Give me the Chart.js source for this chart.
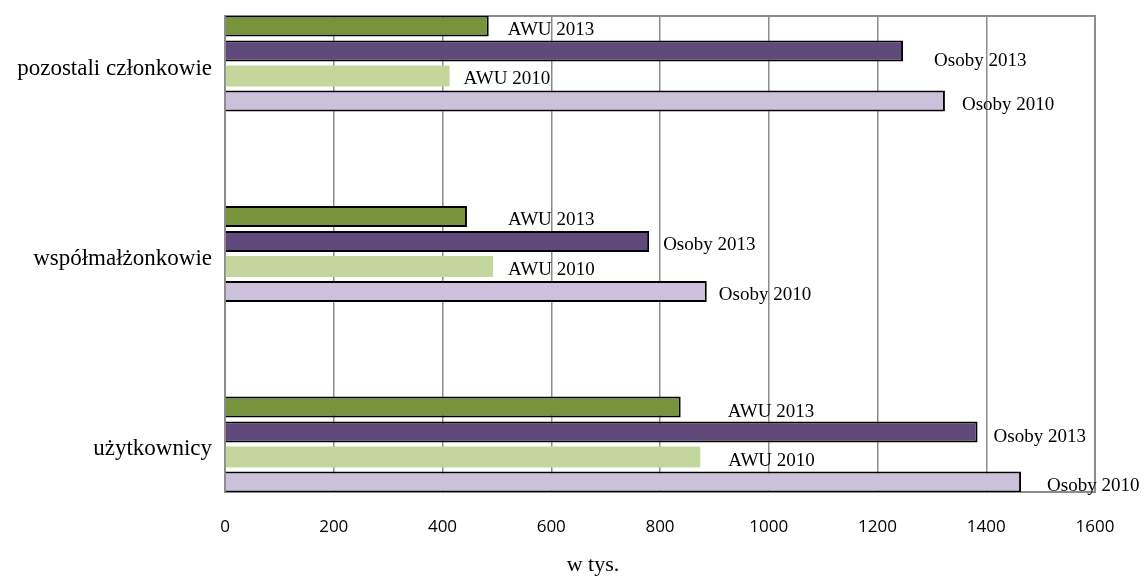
<!DOCTYPE html>
<html>
<head>
<meta charset="utf-8">
<script src="https://cdn.jsdelivr.net/npm/chart.js@4/dist/chart.umd.min.js"></script>
<style>
    body { margin: 0; background: #fff; }
    canvas { display: block; }
</style>
</head>
<body>
<canvas id="pracujacyChart" width="1145" height="581"></canvas>
<script>
// dane (w tys.)
const categories = ['pozostali członkowie', 'współmałżonkowie', 'użytkownicy'];
const seriesNames = ['AWU 2013', 'Osoby 2013', 'AWU 2010', 'Osoby 2010'];
const awu2013 = [485, 445, 838];
const osoby2013 = [1247, 780, 1384];
const awu2010 = [413, 493, 874];
const osoby2010 = [1324, 886, 1464];
const xTicks = [0, 200, 400, 600, 800, 1000, 1200, 1400, 1600];

// przesunięcia etykiet (px) od końca słupka, tak jak w oryginale
const labelDx = [[19, 41, 47], [31, 14, 16], [14, 15, 28], [17, 12, 26]];
const labelDy = [[4, 4, 5], [10, 4, 5], [3, 4, 4], [4, 4, 4]];

const fillColors = ['#77933C', '#604A7B', '#C3D69B', '#CCC1DA'];
const borderWidths = [2, 2, 0, 2];
const gridGray = '#8c8c8c';

function toPoints(values) {
    return values.map((v, i) => ({ x: v, y: i }));
}

const barLabels = {
    id: 'barLabels',
    afterDatasetsDraw(chart) {
        const ctx = chart.ctx;
        ctx.save();
        ctx.font = '19px "Liberation Serif", "Times New Roman", serif';
        ctx.fillStyle = '#000';
        ctx.textAlign = 'left';
        ctx.textBaseline = 'middle';
        chart.data.datasets.forEach((ds, di) => {
            const meta = chart.getDatasetMeta(di);
            meta.data.forEach((bar, i) => {
                ctx.fillText(ds.label, bar.x + labelDx[di][i], bar.y + labelDy[di][i]);
            });
        });
        ctx.restore();
    }
};

const plotFrame = {
    id: 'plotFrame',
    beforeDatasetsDraw(chart) {
        const a = chart.chartArea;
        const ctx = chart.ctx;
        ctx.save();
        ctx.strokeStyle = gridGray;
        ctx.lineWidth = 2;
        ctx.strokeRect(a.left, a.top, a.right - a.left, a.bottom - a.top);
        ctx.restore();
    },
    afterDraw(chart) {
        const ctx = chart.ctx;
        ctx.save();
        ctx.font = '22px "Liberation Serif", "Times New Roman", serif';
        ctx.fillStyle = '#000';
        ctx.textAlign = 'center';
        ctx.textBaseline = 'middle';
        ctx.fillText('w tys.', 593, 565);
        ctx.restore();
    }
};

const allSeries = [awu2013, osoby2013, awu2010, osoby2010];

const ctx = document.getElementById('pracujacyChart').getContext('2d');
new Chart(ctx, {
    type: 'bar',
    data: {
        datasets: allSeries.map((values, di) => ({
            label: seriesNames[di],
            data: toPoints(values),
            backgroundColor: fillColors[di],
            borderColor: '#000',
            borderWidth: borderWidths[di],
            borderSkipped: 'start',
            categoryPercentage: 0.525,
            barPercentage: 0.84
        }))
    },
    options: {
        indexAxis: 'y',
        responsive: false,
        animation: false,
        layout: {
            padding: { top: 16, right: 50, left: 0, bottom: 0 }
        },
        plugins: {
            legend: { display: false },
            tooltip: { enabled: false }
        },
        scales: {
            x: {
                type: 'linear',
                min: 0,
                max: 1600,
                afterBuildTicks: (scale) => {
                    scale.ticks = xTicks.map(v => ({ value: v }));
                },
                afterFit: (scale) => {
                    scale.height = 89;
                },
                grid: {
                    color: gridGray,
                    lineWidth: 1.5,
                    drawTicks: false
                },
                border: { display: false },
                ticks: {
                    padding: 25,
                    color: '#000',
                    font: { family: '"Open Sans", sans-serif', size: 17 },
                    callback: (value) => String(value)
                }
            },
            y: {
                type: 'linear',
                reverse: true,
                offset: false,
                min: -0.25,
                max: 2.25,
                afterBuildTicks: (scale) => {
                    scale.ticks = categories.map((c, i) => ({ value: i }));
                },
                afterFit: (scale) => {
                    scale.width = 225;
                    scale.paddingTop = 0;
                    scale.paddingBottom = 0;
                },
                grid: { display: false, drawTicks: false },
                border: { display: false },
                ticks: {
                    padding: 13,
                    labelOffset: 5,
                    color: '#000',
                    font: { family: '"Liberation Serif", "Times New Roman", serif', size: 23 },
                    callback: (value) => categories[value]
                }
            }
        }
    },
    plugins: [plotFrame, barLabels]
});
</script>
</body>
</html>
